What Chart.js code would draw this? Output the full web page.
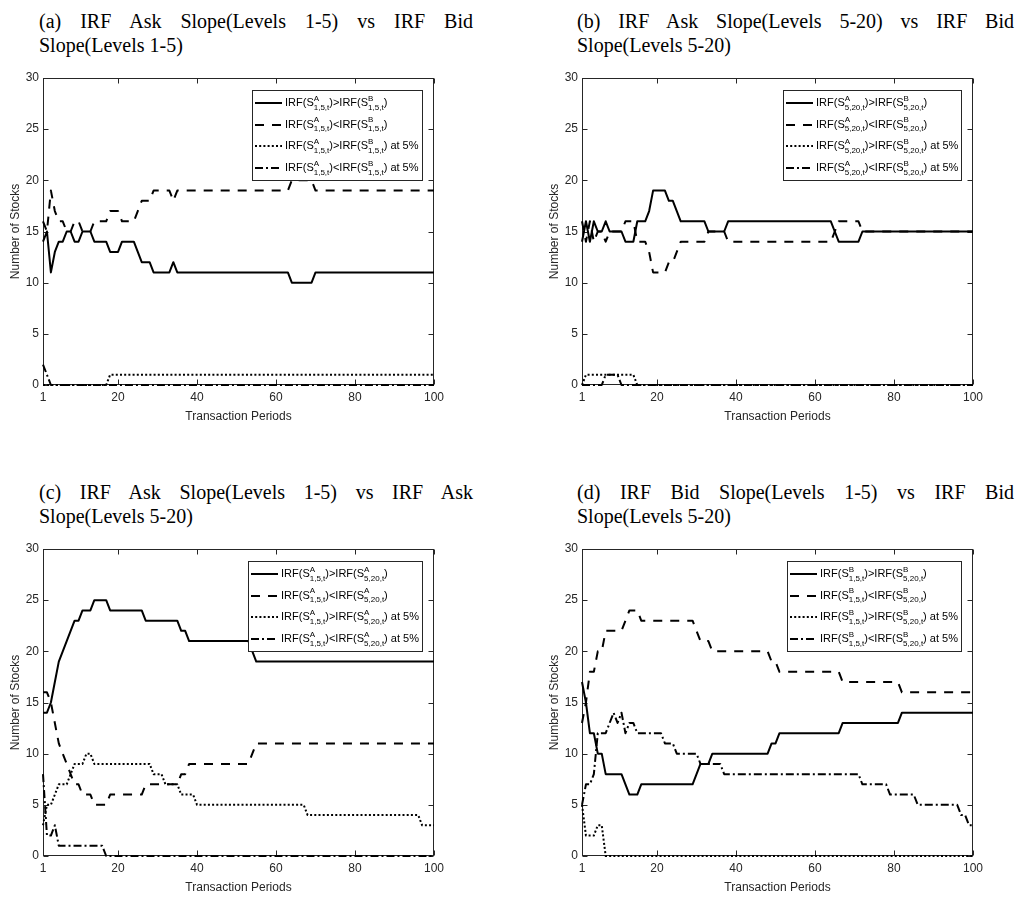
<!DOCTYPE html>
<html><head><meta charset="utf-8">
<script src="https://cdn.jsdelivr.net/npm/chart.js@4.4.0/dist/chart.umd.min.js"></script>
<style>
html,body{margin:0;padding:0;background:#fff;width:1016px;height:897px;overflow:hidden;position:relative;}
.ttl{position:absolute;font-family:"Liberation Serif","Times New Roman",serif;font-size:20px;line-height:24px;color:#000;}
.ttl .l1{text-align:justify;text-align-last:justify;}
.ttl .l2{text-align:left;}
canvas{position:absolute;}
</style></head>
<body>
<script>
// ---------- data ----------
const periods = Array.from({length:100},(_,i)=>i+1);
const xTickValues = [1,20,40,60,80,100];
const xTitle = "Transaction Periods";
const yTitle = "Number of Stocks";

const titles = [
 ["(a) IRF Ask Slope(Levels 1-5) vs IRF Bid","Slope(Levels 1-5)"],
 ["(b) IRF Ask Slope(Levels 5-20) vs IRF Bid","Slope(Levels 5-20)"],
 ["(c) IRF Ask Slope(Levels 1-5) vs IRF Ask","Slope(Levels 5-20)"],
 ["(d) IRF Bid Slope(Levels 1-5) vs IRF Bid","Slope(Levels 5-20)"]
];

const legendA = ["IRF(S^{A}_{1,5,t})>IRF(S^{B}_{1,5,t})","IRF(S^{A}_{1,5,t})<IRF(S^{B}_{1,5,t})","IRF(S^{A}_{1,5,t})>IRF(S^{B}_{1,5,t}) at 5%","IRF(S^{A}_{1,5,t})<IRF(S^{B}_{1,5,t}) at 5%"];
const legendB = ["IRF(S^{A}_{5,20,t})>IRF(S^{B}_{5,20,t})","IRF(S^{A}_{5,20,t})<IRF(S^{B}_{5,20,t})","IRF(S^{A}_{5,20,t})>IRF(S^{B}_{5,20,t}) at 5%","IRF(S^{A}_{5,20,t})<IRF(S^{B}_{5,20,t}) at 5%"];
const legendC = ["IRF(S^{A}_{1,5,t})>IRF(S^{A}_{5,20,t})","IRF(S^{A}_{1,5,t})<IRF(S^{A}_{5,20,t})","IRF(S^{A}_{1,5,t})>IRF(S^{A}_{5,20,t}) at 5%","IRF(S^{A}_{1,5,t})<IRF(S^{A}_{5,20,t}) at 5%"];
const legendD = ["IRF(S^{B}_{1,5,t})>IRF(S^{B}_{5,20,t})","IRF(S^{B}_{1,5,t})<IRF(S^{B}_{5,20,t})","IRF(S^{B}_{1,5,t})>IRF(S^{B}_{5,20,t}) at 5%","IRF(S^{B}_{1,5,t})<IRF(S^{B}_{5,20,t}) at 5%"];

// panel (a)
const aGt = [14,15,11,13,14,14,15,15,14,14, 15,15,15,14,14,14,14,13,13,13, 14,14,14,14,13,12,12,12,11,11, 11,11,11,12,11,11,11,11,11,11, 11,11,11,11,11,11,11,11,11,11, 11,11,11,11,11,11,11,11,11,11, 11,11,11,10,10,10,10,10,10,11, 11,11,11,11,11,11,11,11,11,11, 11,11,11,11,11,11,11,11,11,11, 11,11,11,11,11,11,11,11,11,11];
const aLt = [16,15,19,17,16,16,15,15,16,16, 15,15,15,16,16,16,16,17,17,17, 16,16,16,16,17,18,18,18,19,19, 19,19,19,18,19,19,19,19,19,19, 19,19,19,19,19,19,19,19,19,19, 19,19,19,19,19,19,19,19,19,19, 19,19,19,20,20,20,20,20,20,19, 19,19,19,19,19,19,19,19,19,19, 19,19,19,19,19,19,19,19,19,19, 19,19,19,19,19,19,19,19,19,19];
const aGt5 = [0,0,0,0,0,0,0,0,0,0, 0,0,0,0,0,0,0,1,1,1, 1,1,1,1,1,1,1,1,1,1, 1,1,1,1,1,1,1,1,1,1, 1,1,1,1,1,1,1,1,1,1, 1,1,1,1,1,1,1,1,1,1, 1,1,1,1,1,1,1,1,1,1, 1,1,1,1,1,1,1,1,1,1, 1,1,1,1,1,1,1,1,1,1, 1,1,1,1,1,1,1,1,1,1];
const aLt5 = [2,1,0,0,0,0,0,0,0,0, 0,0,0,0,0,0,0,0,0,0, 0,0,0,0,0,0,0,0,0,0, 0,0,0,0,0,0,0,0,0,0, 0,0,0,0,0,0,0,0,0,0, 0,0,0,0,0,0,0,0,0,0, 0,0,0,0,0,0,0,0,0,0, 0,0,0,0,0,0,0,0,0,0, 0,0,0,0,0,0,0,0,0,0, 0,0,0,0,0,0,0,0,0,0];

// panel (b)
const bGt = [14,16,14,16,15,15,16,15,15,15, 15,14,14,14,16,16,16,17,19,19, 19,19,18,18,17,16,16,16,16,16, 16,16,15,15,15,15,15,16,16,16, 16,16,16,16,16,16,16,16,16,16, 16,16,16,16,16,16,16,16,16,16, 16,16,16,16,15,14,14,14,14,14, 14,15,15,15,15,15,15,15,15,15, 15,15,15,15,15,15,15,15,15,15, 15,15,15,15,15,15,15,15,15,15];
const bLt = [16,14,16,14,15,15,14,15,15,15, 15,16,16,16,14,14,14,13,11,11, 11,11,12,12,13,14,14,14,14,14, 14,14,15,15,15,15,15,14,14,14, 14,14,14,14,14,14,14,14,14,14, 14,14,14,14,14,14,14,14,14,14, 14,14,14,14,15,16,16,16,16,16, 16,15,15,15,15,15,15,15,15,15, 15,15,15,15,15,15,15,15,15,15, 15,15,15,15,15,15,15,15,15,15];
const bGt5 = [0,1,1,1,1,1,1,1,1,1, 1,1,1,1,0,0,0,0,0,0, 0,0,0,0,0,0,0,0,0,0, 0,0,0,0,0,0,0,0,0,0, 0,0,0,0,0,0,0,0,0,0, 0,0,0,0,0,0,0,0,0,0, 0,0,0,0,0,0,0,0,0,0, 0,0,0,0,0,0,0,0,0,0, 0,0,0,0,0,0,0,0,0,0, 0,0,0,0,0,0,0,0,0,0];
const bLt5 = [0,0,0,0,0,0,1,1,1,1, 0,0,0,0,0,0,0,0,0,0, 0,0,0,0,0,0,0,0,0,0, 0,0,0,0,0,0,0,0,0,0, 0,0,0,0,0,0,0,0,0,0, 0,0,0,0,0,0,0,0,0,0, 0,0,0,0,0,0,0,0,0,0, 0,0,0,0,0,0,0,0,0,0, 0,0,0,0,0,0,0,0,0,0, 0,0,0,0,0,0,0,0,0,0];

// panel (c)
const cGt = [14,14,15,17,19,20,21,22,23,23, 24,24,24,25,25,25,25,24,24,24, 24,24,24,24,24,24,23,23,23,23, 23,23,23,23,23,22,22,21,21,21, 21,21,21,21,21,21,21,21,21,21, 21,21,21,20,19,19,19,19,19,19, 19,19,19,19,19,19,19,19,19,19, 19,19,19,19,19,19,19,19,19,19, 19,19,19,19,19,19,19,19,19,19, 19,19,19,19,19,19,19,19,19,19];
const cLt = [16,16,15,13,11,10,9,8,7,7, 6,6,6,5,5,5,5,6,6,6, 6,6,6,6,6,6,7,7,7,7, 7,7,7,7,7,8,8,9,9,9, 9,9,9,9,9,9,9,9,9,9, 9,9,9,10,11,11,11,11,11,11, 11,11,11,11,11,11,11,11,11,11, 11,11,11,11,11,11,11,11,11,11, 11,11,11,11,11,11,11,11,11,11, 11,11,11,11,11,11,11,11,11,11];
const cGt5 = [3,5,5,6,7,7,7,8,9,9, 9,10,10,9,9,9,9,9,9,9, 9,9,9,9,9,9,9,9,8,8, 8,7,7,7,7,6,6,6,6,5, 5,5,5,5,5,5,5,5,5,5, 5,5,5,5,5,5,5,5,5,5, 5,5,5,5,5,5,5,4,4,4, 4,4,4,4,4,4,4,4,4,4, 4,4,4,4,4,4,4,4,4,4, 4,4,4,4,4,4,3,3,3,3];
const cLt5 = [8,2,2,3,1,1,1,1,1,1, 1,1,1,1,1,1,0,0,0,0, 0,0,0,0,0,0,0,0,0,0, 0,0,0,0,0,0,0,0,0,0, 0,0,0,0,0,0,0,0,0,0, 0,0,0,0,0,0,0,0,0,0, 0,0,0,0,0,0,0,0,0,0, 0,0,0,0,0,0,0,0,0,0, 0,0,0,0,0,0,0,0,0,0, 0,0,0,0,0,0,0,0,0,0];

// panel (d)
const dGt = [17,15,12,12,10,10,8,8,8,8, 8,7,6,6,6,7,7,7,7,7, 7,7,7,7,7,7,7,7,7,8, 9,9,9,10,10,10,10,10,10,10, 10,10,10,10,10,10,10,10,11,11, 12,12,12,12,12,12,12,12,12,12, 12,12,12,12,12,12,13,13,13,13, 13,13,13,13,13,13,13,13,13,13, 13,14,14,14,14,14,14,14,14,14, 14,14,14,14,14,14,14,14,14,14];
const dLt = [13,15,18,18,20,20,22,22,22,22, 22,23,24,24,24,23,23,23,23,23, 23,23,23,23,23,23,23,23,23,22, 21,21,21,20,20,20,20,20,20,20, 20,20,20,20,20,20,20,20,19,19, 18,18,18,18,18,18,18,18,18,18, 18,18,18,18,18,18,17,17,17,17, 17,17,17,17,17,17,17,17,17,17, 17,16,16,16,16,16,16,16,16,16, 16,16,16,16,16,16,16,16,16,16];
const dGt5 = [5,2,2,2,3,3,0,0,0,0, 0,0,0,0,0,0,0,0,0,0, 0,0,0,0,0,0,0,0,0,0, 0,0,0,0,0,0,0,0,0,0, 0,0,0,0,0,0,0,0,0,0, 0,0,0,0,0,0,0,0,0,0, 0,0,0,0,0,0,0,0,0,0, 0,0,0,0,0,0,0,0,0,0, 0,0,0,0,0,0,0,0,0,0, 0,0,0,0,0,0,0,0,0,0];
const dLt5 = [5,7,7,8,12,12,12,13,14,13, 14,12,13,13,12,12,12,12,12,12, 12,11,11,11,10,10,10,10,10,10, 9,9,9,9,9,9,8,8,8,8, 8,8,8,8,8,8,8,8,8,8, 8,8,8,8,8,8,8,8,8,8, 8,8,8,8,8,8,8,8,8,8, 8,7,7,7,7,7,7,7,6,6, 6,6,6,6,6,5,5,5,5,5, 5,5,5,5,5,5,4,4,3,3];

// ---------- styling ----------
const AX = '#262626';
const SANS = '"Liberation Sans", Arial, sans-serif';
const dashStyles = [[], [9,8], [2,2.2], [8,3,2,3]];

function parseRich(s){
  const out=[]; const re=/\^\{([^}]*)\}_\{([^}]*)\}/g; let last=0,m;
  while((m=re.exec(s))){ if(m.index>last) out.push({n:s.slice(last,m.index)}); out.push({sup:m[1],sub:m[2]}); last=re.lastIndex; }
  if(last<s.length) out.push({n:s.slice(last)});
  return out;
}
const MAINF = '11px '+SANS, SCRF = '8px '+SANS;
function richWidth(ctx, s){
  let w=0;
  for(const p of parseRich(s)){
    if(p.n!==undefined){ctx.font=MAINF; w+=ctx.measureText(p.n).width;}
    else {ctx.font=SCRF; w+=Math.max(ctx.measureText(p.sup).width, ctx.measureText(p.sub).width);}
  }
  return w;
}
function drawRich(ctx, s, x, y){
  ctx.textBaseline='middle'; ctx.textAlign='left'; ctx.fillStyle='#000';
  for(const p of parseRich(s)){
    if(p.n!==undefined){ctx.font=MAINF; ctx.fillText(p.n,x,y); x+=ctx.measureText(p.n).width;}
    else {ctx.font=SCRF; ctx.fillText(p.sup,x,y-4.5); ctx.fillText(p.sub,x,y+4.5);
      x+=Math.max(ctx.measureText(p.sup).width, ctx.measureText(p.sub).width);}
  }
}

const framePlugin = {
  id:'frame',
  beforeDatasetsDraw(chart){
    const ctx=chart.ctx, a=chart.chartArea, xs=chart.scales.x, ys=chart.scales.y;
    const L=Math.round(a.left)+0.5, R=Math.round(a.right)-0.5, T=Math.round(a.top)+0.5, B=Math.round(a.bottom)-0.5;
    ctx.save(); ctx.strokeStyle=AX; ctx.lineWidth=1; ctx.setLineDash([]);
    ctx.strokeRect(L,T,R-L,B-T);
    ctx.beginPath();
    for(const v of xTickValues){ const px=Math.round(xs.getPixelForValue(v))+0.5;
      ctx.moveTo(px,B); ctx.lineTo(px,B-5); ctx.moveTo(px,T); ctx.lineTo(px,T+5); }
    for(let v=0; v<=30; v+=5){ const py=Math.round(ys.getPixelForValue(v))+0.5;
      ctx.moveTo(L,py); ctx.lineTo(L+5,py); ctx.moveTo(R,py); ctx.lineTo(R-5,py); }
    ctx.stroke(); ctx.restore();
  }
};
const legendPlugin = {
  id:'richLegend',
  afterDatasetsDraw(chart){
    const labels = chart.options.plugins.richLegend.labels;
    const ctx=chart.ctx, a=chart.chartArea;
    let tw=0; for(const s of labels) tw=Math.max(tw, richWidth(ctx,s));
    const w = Math.round(3+27+3+tw+4), h=91;
    const x0 = Math.round(a.right)-11-w, y0=Math.round(a.top)+12;
    ctx.save();
    ctx.fillStyle='#fff'; ctx.fillRect(x0,y0,w,h);
    ctx.strokeStyle=AX; ctx.lineWidth=1; ctx.setLineDash([]); ctx.strokeRect(x0+0.5,y0+0.5,w-1,h-1);
    labels.forEach((s,i)=>{
      const cy = y0+13+i*21.7;
      ctx.beginPath(); ctx.strokeStyle='#000'; ctx.lineWidth=2; ctx.lineCap='butt';
      ctx.setLineDash(dashStyles[i]); ctx.moveTo(x0+3,Math.round(cy)); ctx.lineTo(x0+30,Math.round(cy)); ctx.stroke();
      ctx.setLineDash([]);
      drawRich(ctx,s,x0+33,cy);
    });
    ctx.restore();
  }
};

function makePanel(idx, left, top, width, series, labels){
  const t = titles[idx];
  const tl = document.createElement('div'); tl.className='ttl';
  tl.style.left = (left===0?39:577)+'px'; tl.style.top=(top-69)+'px'; tl.style.width=(left===0?434:437)+'px';
  tl.innerHTML = '<div class="l1"></div><div class="l2"></div>';
  tl.children[0].textContent=t[0]; tl.children[1].textContent=t[1];
  document.body.appendChild(tl);
  const cv=document.createElement('canvas');
  cv.width=width; cv.height=367; cv.style.left=left+'px'; cv.style.top=(top-18)+'px';
  document.body.appendChild(cv);
  new Chart(cv.getContext('2d'),{
    type:'line',
    data:{datasets: series.map((vals,i)=>({
      data: periods.map((p,j)=>({x:p,y:vals[j]})),
      borderColor:'#000', borderWidth:2, borderDash:dashStyles[i], pointRadius:0, pointHoverRadius:0,
      tension:0, fill:false, clip:6, borderCapStyle:'butt', borderJoinStyle:'round'
    }))},
    options:{
      responsive:false, animation:false, events:[],
      layout:{padding:{top:18,right:width-434,bottom:0,left:0}},
      plugins:{legend:{display:false}, tooltip:{enabled:false}, richLegend:{labels}},
      scales:{
        x:{type:'linear',min:1,max:100,
          afterBuildTicks:s=>{s.ticks=xTickValues.map(v=>({value:v}));},
          afterFit:s=>{s.height=42;},
          grid:{display:false,drawTicks:false}, border:{display:false},
          ticks:{padding:5,color:AX,font:{family:SANS,size:12},maxRotation:0,autoSkip:false,callback:v=>String(v)},
          title:{display:true,text:xTitle,color:AX,font:{family:SANS,size:12},padding:{top:0,bottom:3}}},
        y:{min:0,max:30,
          afterFit:s=>{s.width=43;},
          grid:{display:false,drawTicks:false}, border:{display:false},
          ticks:{stepSize:5,padding:4,color:AX,font:{family:SANS,size:12}},
          title:{display:true,text:yTitle,color:AX,font:{family:SANS,size:12},padding:{top:8,bottom:0}}}
      }
    },
    plugins:[framePlugin, legendPlugin]
  });
}

makePanel(0, 0, 78, 480, [aGt,aLt,aGt5,aLt5], legendA);
makePanel(1, 539, 78, 477, [bGt,bLt,bGt5,bLt5], legendB);
makePanel(2, 0, 549, 480, [cGt,cLt,cGt5,cLt5], legendC);
makePanel(3, 539, 549, 477, [dGt,dLt,dGt5,dLt5], legendD);
</script>
</body></html>
